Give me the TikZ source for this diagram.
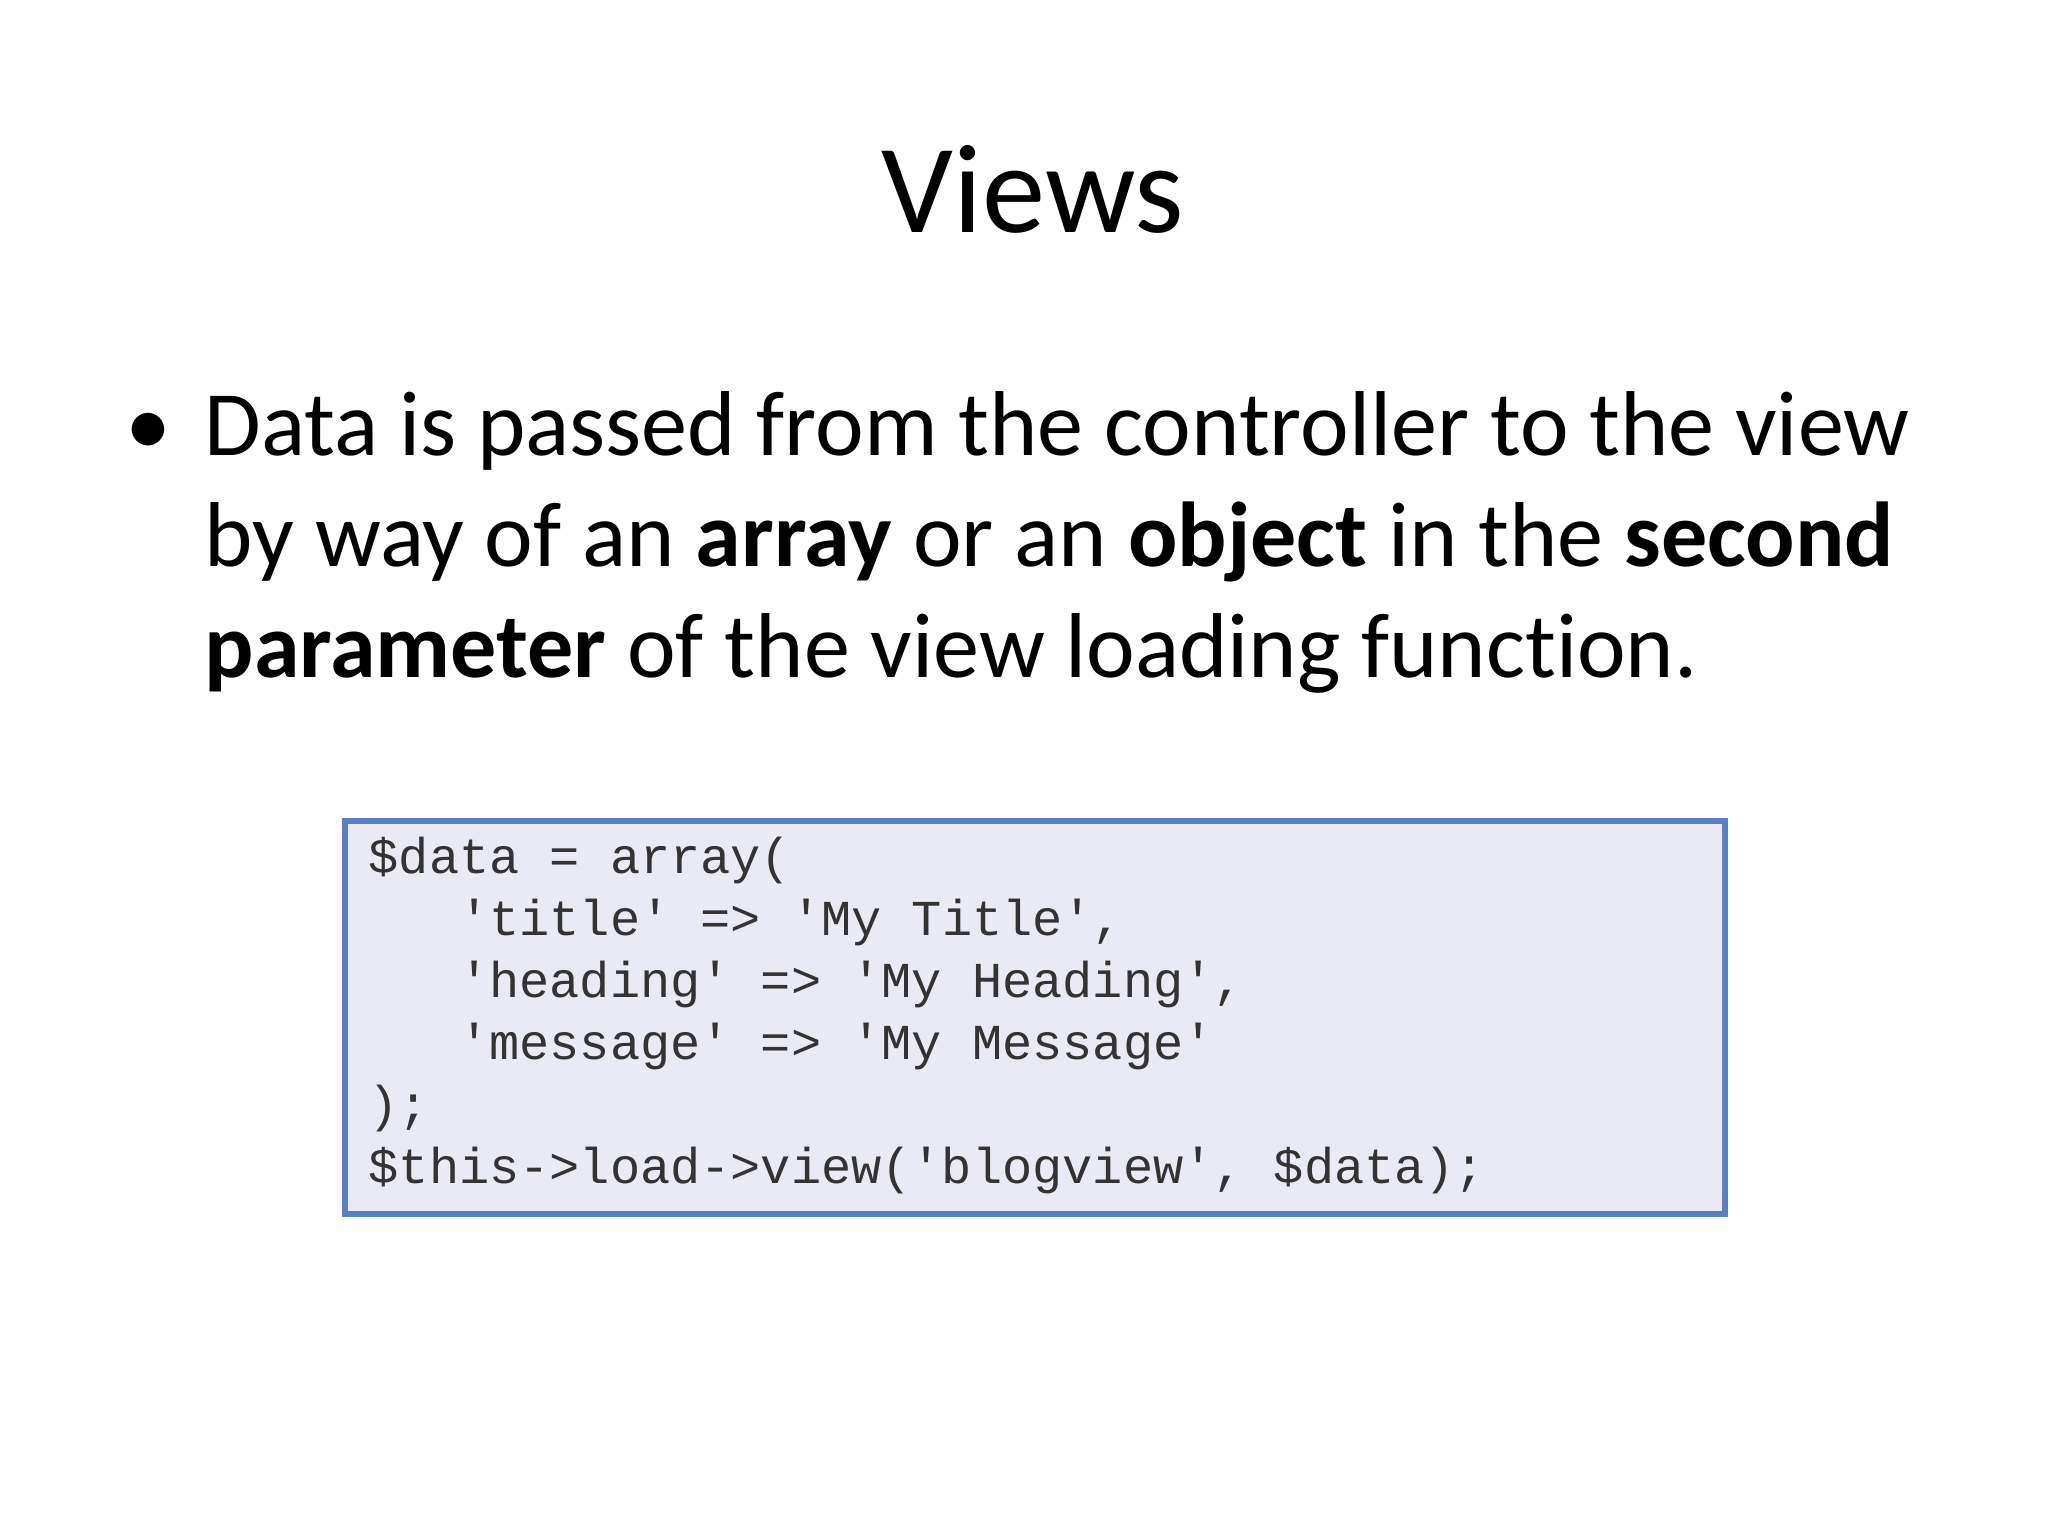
\documentclass[tikz,border=0pt]{standalone}
\usepackage{fontspec}
\setmainfont{Carlito}[RawFeature=-liga]
\newfontfamily\codefont{Liberation Mono}
\definecolor{boxfill}{HTML}{E9EAF4}
\definecolor{boxline}{HTML}{5B7FC4}
\definecolor{codetext}{HTML}{333333}
\begin{document}
\begin{tikzpicture}[x=0.01cm,y=-0.01cm,
  bodytext/.style={anchor=base west,inner sep=0,font=\fontsize{26.2}{32}\selectfont},
  codeline/.style={anchor=base west,inner sep=0,text=codetext,font=\codefont\fontsize{14.3}{17}\selectfont}]
\useasboundingbox[fill=white] (0,0) rectangle (2048,1536);
\node[anchor=base,inner sep=0,font=\fontsize{36}{44}\selectfont] (title) at (1033,232) {Views};
\node[bodytext] (bullet) at (125,455) {•};
\node[bodytext] (l1) at (204,455) {Data is passed from the controller to the view};
\node[bodytext] (l2) at (204,566) {by way of an \textbf{array} or an \textbf{object} in the \textbf{second}};
\node[bodytext] (l3) at (204,677) {\textbf{parameter} of the view loading function.};
\draw[draw=boxline,line width=1.5pt,fill=boxfill] (345,821) rectangle (1725,1214);
\node[codeline] (c1) at (368,873) {\$data = array(};
\node[codeline] (c2) at (368,935) {\ \ \ 'title' => 'My Title',};
\node[codeline] (c3) at (368,997) {\ \ \ 'heading' => 'My Heading',};
\node[codeline] (c4) at (368,1059) {\ \ \ 'message' => 'My Message'};
\node[codeline] (c5) at (368,1121) {);};
\node[codeline] (c6) at (368,1183) {\$this->load->view('blogview', \$data);};
\end{tikzpicture}
\end{document}
